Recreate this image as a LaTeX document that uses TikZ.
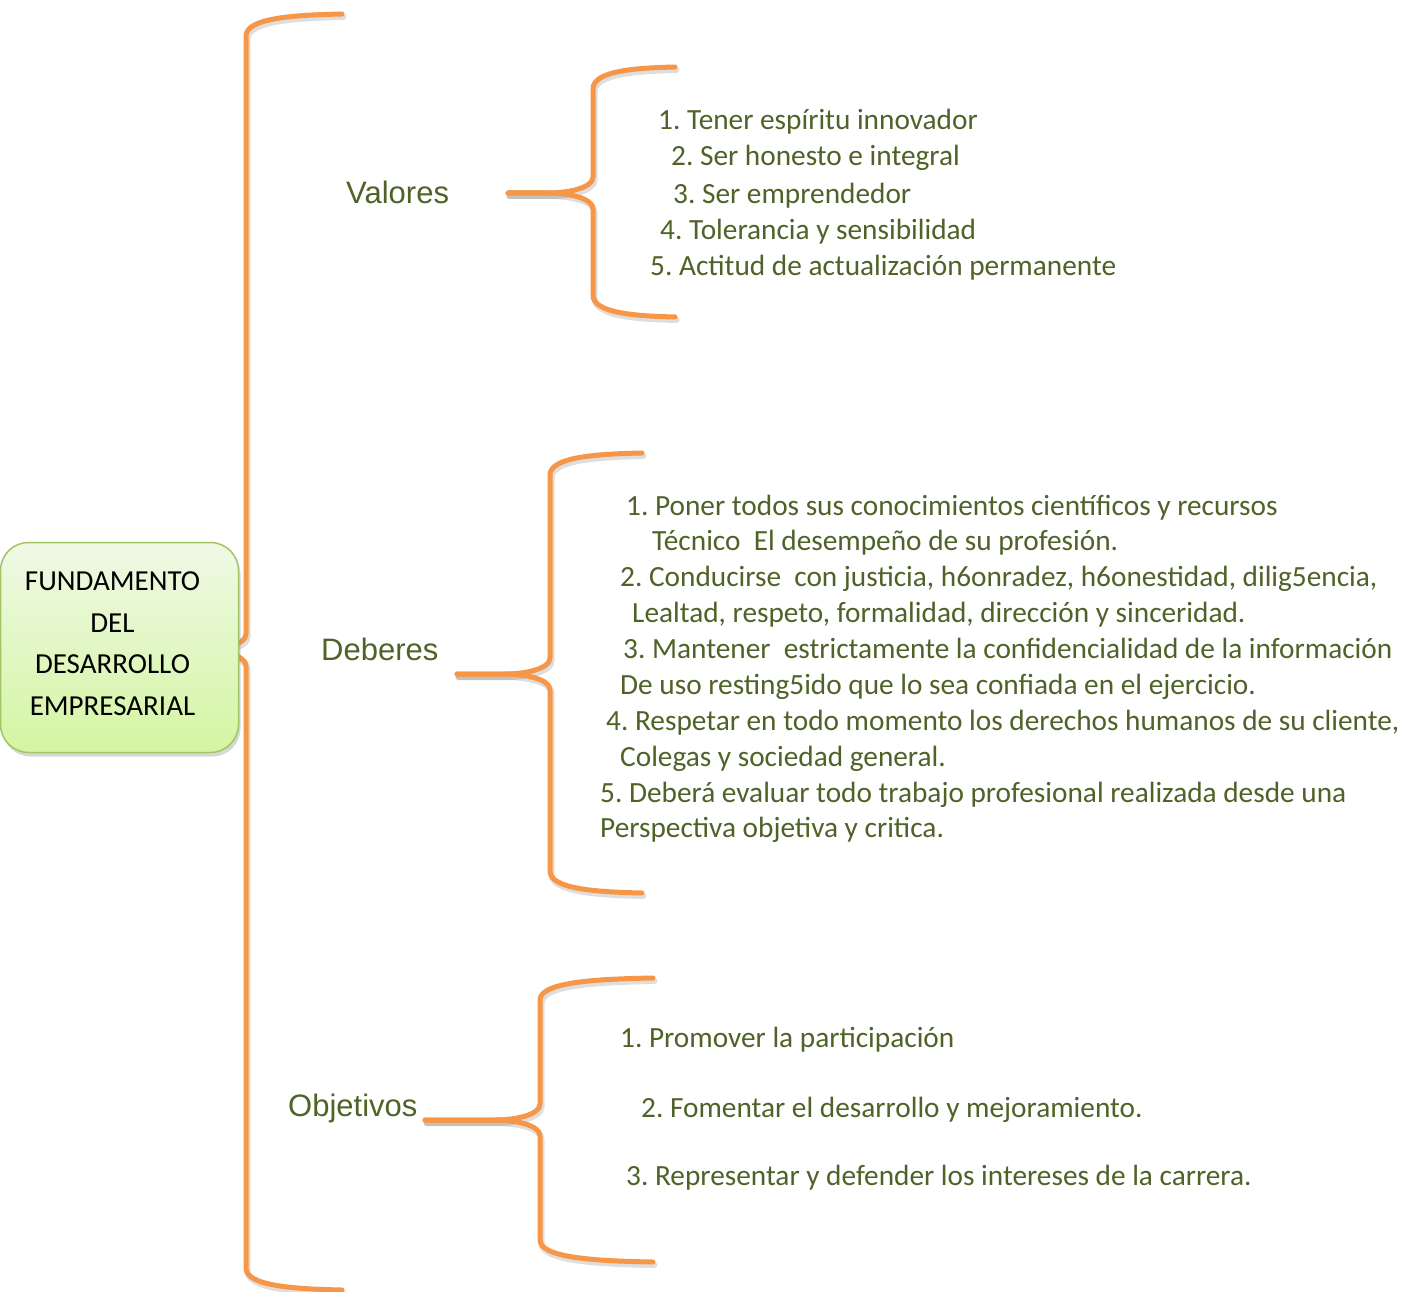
\documentclass[tikz,border=0pt]{standalone}
\usepackage{fontspec}
\setmainfont{Carlito}
\newfontfamily\arialf{Liberation Sans}
\usetikzlibrary{shadows}
\definecolor{txtgreen}{HTML}{4F6228}
\definecolor{brorange}{HTML}{F79646}
\definecolor{boxedge}{HTML}{A3C565}
\definecolor{boxtop}{HTML}{EFF9E6}
\definecolor{boxbot}{HTML}{D5F5A2}
\frenchspacing
% #1 name, #2 xe (ends), #3 xv (vertical), #4 xt (tip), #5 yt, #6 ym, #7 yb
\newcommand\mybrace[7]{%
  \coordinate (#1t) at (#2,#5);
  \coordinate (#1p) at (#4,#6);
  \coordinate (#1b) at (#2,#7);
  \foreach \bst in {braceshade,bracestyle}{%
    \draw[\bst] (#1t) .. controls ({#3+0.5*(#2-#3)},{#5+1}) and ({#3},{#5+4}) .. ({#3},{#5+22})
      -- ({#3},{#6-16}) .. controls ({#3},{#6-5}) and ({#3-25},{#6}) .. ({#3-45},{#6}) -- (#1p);
    \draw[\bst] (#1p) -- ({#3-45},{#6}) .. controls ({#3-25},{#6}) and ({#3},{#6+5}) .. ({#3},{#6+16})
      -- ({#3},{#7-22}) .. controls ({#3},{#7-4}) and ({#3+0.5*(#2-#3)},{#7-1}) .. (#1b);
  }%
}
\begin{document}
\frenchspacing
\begin{tikzpicture}[x=1pt,y=-1pt,line join=round,line cap=round,
  bracestyle/.style={draw=brorange,line width=5pt},
  braceshade/.style={draw=black,opacity=0.13,line width=6pt,transform canvas={shift={(1.5pt,-3pt)}}},
  item/.style={anchor=base west,inner sep=0pt,text=txtgreen,font=\fontsize{29.3}{34}\selectfont},
  cat/.style={anchor=base west,inner sep=0pt,text=txtgreen,font=\arialf\fontsize{31}{36}\selectfont}]
\useasboundingbox[fill=white] (0,0) rectangle (1408,1292);

% main brace
\mybrace{big}{342}{246}{205}{14}{650}{1290}

% root box
\node[draw=boxedge,line width=1.5pt,rounded corners=28pt,top color=boxtop,bottom color=boxbot,
  minimum width=238pt,minimum height=210pt,inner sep=0pt,
  drop shadow={shadow xshift=2pt,shadow yshift=-4pt,opacity=0.3}] (root) at (119.5,647.5) {};
\node[align=center,inner sep=0pt,font=\fontsize{29}{41.5}\selectfont] (rootlbl) at (112.5,643.5)
  {FUNDAMENTO\\DEL\\DESARROLLO\\EMPRESARIAL};

% categories
\node[cat] (valores) at (346,204) {Valores};
\node[cat] (deberes) at (321,660) {Deberes};
\node[cat] (objetivos) at (288,1116) {Objetivos};

% sub braces
\mybrace{val}{675}{593}{508}{67}{193}{317}
\mybrace{deb}{642}{550}{457}{453}{674}{893}
\mybrace{obj}{653}{540}{425}{978}{1120}{1262}

% Valores items
\node[item] (v1) at (658,130) {1. Tener espíritu innovador};
\node[item] (v2) at (671,166) {2. Ser honesto e integral};
\node[item] (v3) at (673,204) {3. Ser emprendedor};
\node[item] (v4) at (660,240) {4. Tolerancia y sensibilidad};
\node[item] (v5) at (650,275) {5. Actitud de actualización permanente};

% Deberes items
\node[item] (d1) at (626,515) {1. Poner todos sus conocimientos científicos y recursos};
\node[item] (d2) at (652,550) {Técnico\ \ El desempeño de su profesión.};
\node[item] (d3) at (620,586) {2. Conducirse\ \ con justicia, h6onradez, h6onestidad, dilig5encia,};
\node[item] (d4) at (632,622) {Lealtad, respeto, formalidad, dirección y sinceridad.};
\node[item] (d5) at (623,658) {3. Mantener\ \ estrictamente la confidencialidad de la información};
\node[item] (d6) at (620,694) {De uso resting5ido que lo sea confiada en el ejercicio.};
\node[item] (d7) at (606,730) {4. Respetar en todo momento los derechos humanos de su cliente,};
\node[item] (d8) at (620,766) {Colegas y sociedad general.};
\node[item] (d9) at (600,802) {5. Deberá evaluar todo trabajo profesional realizada desde una};
\node[item] (d10) at (600,837) {Perspectiva objetiva y critica.};

% Objetivos items
\node[item] (o1) at (620,1047) {1. Promover la participación};
\node[item] (o2) at (641,1117) {2. Fomentar el desarrollo y mejoramiento.};
\node[item] (o3) at (626,1185) {3. Representar y defender los intereses de la carrera.};
\end{tikzpicture}
\end{document}
